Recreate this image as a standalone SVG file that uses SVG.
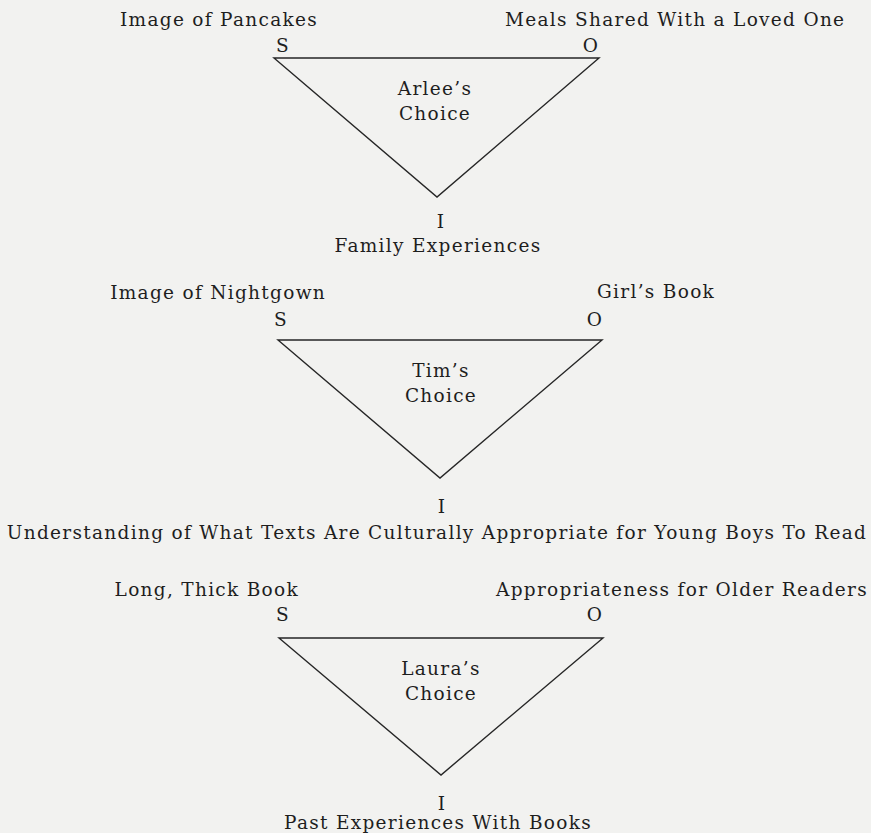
<svg xmlns="http://www.w3.org/2000/svg" width="871" height="833" viewBox="0 0 871 833">
<style>
text{font-family:"DejaVu Serif","Liberation Serif",serif;font-size:18.5px;fill:#1e1e1e;letter-spacing:1.3px}
.m{text-anchor:middle}
.e{text-anchor:end}
.tri{fill:none;stroke:#262626;stroke-width:1.4;stroke-linejoin:miter}
</style>
<rect width="871" height="833" fill="#f2f2f0"/>
<g id="connectors">
<polygon class="tri" points="274,58 599,58 437,197"/>
<polygon class="tri" points="278,340 602,340 440,478"/>
<polygon class="tri" points="279,638 603,638 441,775"/>
</g>
<g id="arlee">
<text x="120" y="26">Image of Pancakes</text>
<text x="505" y="26">Meals Shared With a Loved One</text>
<text class="m" x="283" y="52">S</text>
<text class="m" x="591" y="52">O</text>
<text class="m" x="435" y="95">Arlee’s</text>
<text class="m" x="435" y="120">Choice</text>
<text class="m" x="441" y="228">I</text>
<text class="m" x="438" y="252">Family Experiences</text>
</g>
<g id="tim">
<text class="e" x="326" y="299">Image of Nightgown</text>
<text x="597" y="298">Girl’s Book</text>
<text class="m" x="281" y="326">S</text>
<text class="m" x="595" y="326">O</text>
<text class="m" x="441" y="377">Tim’s</text>
<text class="m" x="441" y="402">Choice</text>
<text class="m" x="442" y="513">I</text>
<text class="m" x="437" y="539">Understanding of What Texts Are Culturally Appropriate for Young Boys To Read</text>
</g>
<g id="laura">
<text class="e" x="299" y="596">Long, Thick Book</text>
<text class="e" x="868" y="596">Appropriateness for Older Readers</text>
<text class="m" x="283" y="621">S</text>
<text class="m" x="595" y="621">O</text>
<text class="m" x="441" y="675">Laura’s</text>
<text class="m" x="441" y="700">Choice</text>
<text class="m" x="442" y="810">I</text>
<text class="m" x="438" y="829">Past Experiences With Books</text>
</g>
</svg>
